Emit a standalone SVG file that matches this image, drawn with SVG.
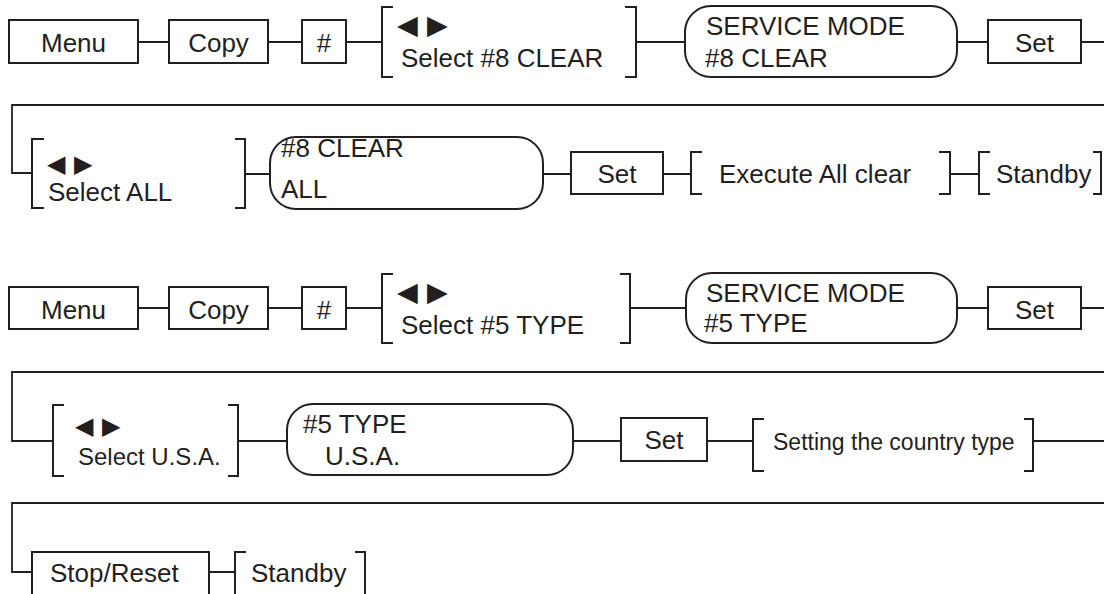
<svg xmlns="http://www.w3.org/2000/svg" width="1104" height="594" viewBox="0 0 1104 594">
<style>
.b{fill:#fff;stroke:#231f20;stroke-width:2}
.k{fill:none;stroke:#231f20;stroke-width:2}
.c{fill:none;stroke:#231f20;stroke-width:1.8}
text{font-family:"Liberation Sans",Arial,sans-serif;font-size:26px;fill:#231f20}
.m{text-anchor:middle}
.t{font-family:"DejaVu Sans",sans-serif;font-size:27px}
</style>
<rect width="1104" height="594" fill="#fff"/>
<g id="connectors">
<path class="c" d="M138 42H169M268 42H302M346 42H382M636 42H685M957 42H988M1081 42H1104"/>
<path class="c" d="M1104 105H12V173H32M245 174H270M543 174H571M663 174H691M950 174H979"/>
<path class="c" d="M138 308H169M268 308H302M346 308H382M630 308H686M957 308H988M1081 308H1104"/>
<path class="c" d="M1104 372H12V441H53M238 441H287M573 441H621M707 441H753M1033 441H1104"/>
<path class="c" d="M1104 503H12V572H32M209 572H235"/>
</g>
<g id="r1-menu"><rect class="b" x="9" y="20" width="129" height="43"/><text class="m" x="73.5" y="52">Menu</text></g>
<g id="r1-copy"><rect class="b" x="169" y="20" width="99" height="43"/><text class="m" x="218.5" y="52">Copy</text></g>
<g id="r1-hash"><rect class="b" x="302" y="20" width="44" height="43"/><text class="m" x="324" y="52">#</text></g>
<g id="r1-select"><path class="k" d="M393 7H382V77H393M625 7H636V77H625"/><text class="t" y="34"><tspan x="397">◀</tspan><tspan x="427">▶</tspan></text><text x="401" y="67">Select #8 CLEAR</text></g>
<g id="r1-mode"><rect class="b" x="685" y="6" width="272" height="71" rx="26"/><text x="706" y="35">SERVICE MODE</text><text x="705" y="67">#8 CLEAR</text></g>
<g id="r1-set"><rect class="b" x="988" y="20" width="93" height="43"/><text class="m" x="1034.5" y="52">Set</text></g>

<g id="r2-select"><path class="k" d="M44 139H32V208H44M235 139H245V208H235"/><text class="t" y="172" style="font-size:24px"><tspan x="47">◀</tspan><tspan x="74">▶</tspan></text><text x="48" y="201">Select ALL</text></g>
<g id="r2-clear"><rect class="b" x="270" y="137" width="273" height="72" rx="26"/><text x="281" y="157">#8 CLEAR</text><text x="281" y="198">ALL</text></g>
<g id="r2-set"><rect class="b" x="571" y="152" width="92" height="42"/><text class="m" x="617" y="183">Set</text></g>
<g id="r2-exec"><path class="k" d="M702 152H691V194H702M939 152H950V194H939"/><text x="719" y="183">Execute All clear</text></g>
<g id="r2-standby"><path class="k" d="M990 152H979V194H990M1093 152H1101V194H1093"/><text x="996" y="183">Standby</text></g>

<g id="r3-menu"><rect class="b" x="9" y="287" width="129" height="42"/><text class="m" x="73.5" y="319">Menu</text></g>
<g id="r3-copy"><rect class="b" x="169" y="287" width="99" height="42"/><text class="m" x="218.5" y="319">Copy</text></g>
<g id="r3-hash"><rect class="b" x="302" y="287" width="44" height="42"/><text class="m" x="324" y="319">#</text></g>
<g id="r3-select"><path class="k" d="M393 274H382V343H393M620 274H630V343H620"/><text class="t" y="301"><tspan x="397">◀</tspan><tspan x="427">▶</tspan></text><text x="401" y="334">Select #5 TYPE</text></g>
<g id="r3-mode"><rect class="b" x="686" y="273" width="271" height="70" rx="26"/><text x="706" y="302">SERVICE MODE</text><text x="704" y="332">#5 TYPE</text></g>
<g id="r3-set"><rect class="b" x="988" y="287" width="93" height="42"/><text class="m" x="1034.5" y="319">Set</text></g>

<g id="r4-select"><path class="k" d="M64 405H53V476H64M228 405H238V476H228"/><text class="t" y="434" style="font-size:24px"><tspan x="75">◀</tspan><tspan x="102">▶</tspan></text><text x="78" y="465" style="font-size:24px">Select U.S.A.</text></g>
<g id="r4-type"><rect class="b" x="287" y="404" width="286" height="71" rx="26"/><text x="303" y="433">#5 TYPE</text><text x="325" y="465">U.S.A.</text></g>
<g id="r4-set"><rect class="b" x="621" y="418" width="86" height="43"/><text class="m" x="664" y="449">Set</text></g>
<g id="r4-setting"><path class="k" d="M764 419H753V471H764M1024 419H1033V471H1024"/><text x="773" y="450" style="font-size:23px">Setting the country type</text></g>

<g id="r5-stop"><rect class="b" x="32" y="552" width="177" height="50"/><text x="50" y="582">Stop/Reset</text></g>
<g id="r5-standby"><path class="k" d="M246 552H235V600M355 552H365V600"/><text x="251" y="582">Standby</text></g>
</svg>
